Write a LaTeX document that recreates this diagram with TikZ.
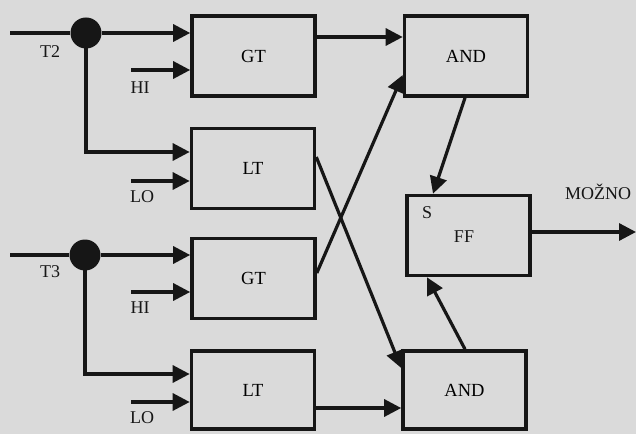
\documentclass[tikz,border=0pt]{standalone}
\usepackage{fontspec}
\setmainfont{Liberation Serif}
\usetikzlibrary{arrows.meta,calc}
\definecolor{paper}{RGB}{218,218,218}
\definecolor{ink}{RGB}{22,22,22}
\begin{document}
\begin{tikzpicture}[x=1pt,y=1pt,
  blk/.style={draw=ink,line width=3.6pt,minimum width=123pt,minimum height=80pt,
    inner sep=0pt,font=\fontsize{18.5}{18.5}\selectfont},
  wire/.style={draw=ink,line width=3.2pt},
  flow/.style={wire,-{Triangle[length=17pt,width=17pt]}},
  lbl/.style={font=\fontsize{18}{18}\selectfont,inner sep=0pt,text=ink},
  junc/.style={circle,fill=ink,minimum size=31pt,inner sep=0pt}]
% paper
\fill[paper] (0,0) rectangle (636,434);
\useasboundingbox (0,0) rectangle (636,434);

% comparator blocks
\node[blk] (GT1) at (253.5,378) {GT};
\node[blk] (LT1) at (253,265.5) {LT};
\node[blk] (GT2) at (253.5,155.5) {GT};
\node[blk,minimum height=78pt] (LT2) at (253,44) {LT};
% logic blocks
\node[blk] (AND1) at (466,378) {AND};
\node[blk] (FF) at (468.5,198.5) {};
\node[lbl] at (464,197) {FF};
\node[lbl] at (427,221) {S};
\node[blk,minimum height=78pt] (AND2) at (464.5,44) {AND};

% input junctions
\node[junc] (J1) at (86,401) {};
\node[junc] (J2) at (85,179) {};
\coordinate (t2) at (10,401);
\coordinate (t3) at (10,179);
\coordinate (hi1) at (131,364);
\coordinate (lo1) at (131,253);
\coordinate (hi2) at (131,142);
\coordinate (lo2) at (131,32);
\coordinate (c1) at (86,282);
\coordinate (c2) at (85,60);
\coordinate (out) at (636,202);

% T2 channel
\draw[wire] (t2) -- (J1);
\draw[flow] (J1) -- (J1 -| GT1.west);
\draw[flow] (J1.center) -- (c1) -- (c1 -| LT1.west);
\draw[flow] (hi1) -- (hi1 -| GT1.west);
\draw[flow] (lo1) -- (lo1 -| LT1.west);
% T3 channel
\draw[wire] (t3) -- (J2);
\draw[flow] (J2) -- (J2 -| GT2.west);
\draw[flow] (J2.center) -- (c2) -- (c2 -| LT2.west);
\draw[flow] (hi2) -- (hi2 -| GT2.west);
\draw[flow] (lo2) -- (lo2 -| LT2.west);

% labels
\node[lbl] at (50,382) {T2};
\node[lbl] at (50,162) {T3};
\node[lbl] at (140,346) {HI};
\node[lbl] at (142,237) {LO};
\node[lbl] at (140,126) {HI};
\node[lbl] at (142,16) {LO};
\node[lbl] at (598,242) {MOŽNO};

% comparator outputs to AND gates
\draw[flow] ($(GT1.east)+(0,19)$) -- ($(AND1.west)+(0,19)$);
\draw[flow] ($(LT1.east)+(0,11.5)$) -- ($(AND2.west)+(0,22)$);
\draw[flow] ($(GT2.east)+(0,5.5)$) -- ($(AND1.west)+(0,-19)$);
\draw[flow] ($(LT2.east)+(0,-18)$) -- ($(AND2.west)+(0,-18)$);

% AND gates to flip-flop
\draw[flow] ($(AND1.south)+(-1,0)$) -- ($(FF.north)+(-35.5,0)$);
\draw[flow] ($(AND2.north)+(0.5,0)$) -- ($(FF.south)+(-41.5,0)$);
\draw[flow] ($(FF.east)+(0,3.5)$) -- (out);
\end{tikzpicture}
\end{document}
